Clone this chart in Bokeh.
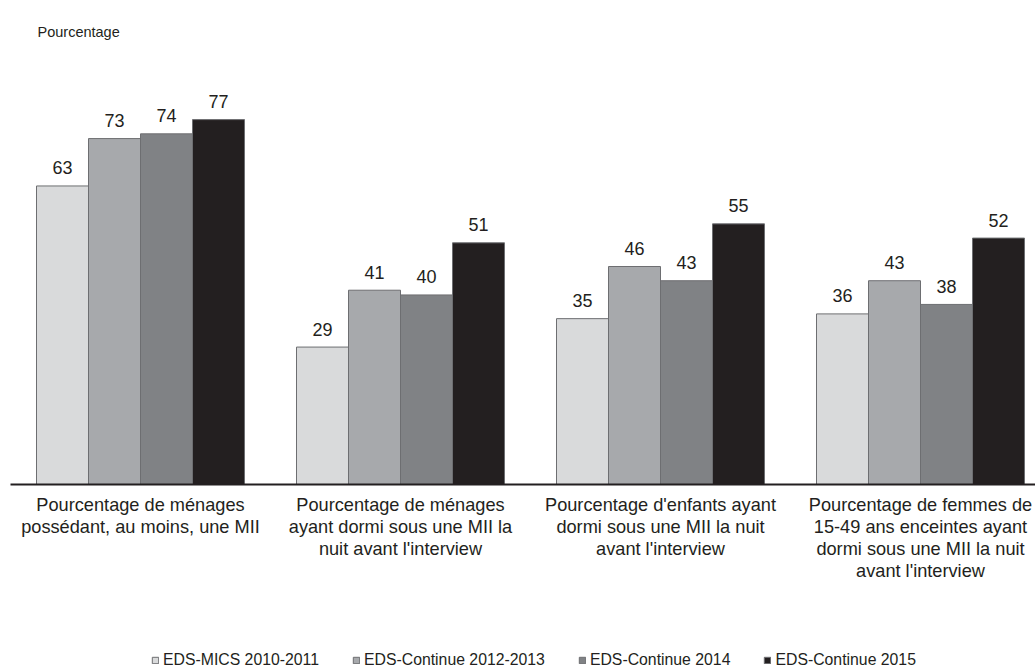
from bokeh.plotting import figure
from bokeh.layouts import column
from bokeh.models import ColumnDataSource, Range1d, FixedTicker, Legend, LegendItem
from bokeh.transform import dodge
from bokeh.core.properties import value
from bokeh.embed import file_html
from bokeh.resources import INLINE

categories = [
    "Pourcentage de ménages\npossédant, au moins, une MII",
    "Pourcentage de ménages\nayant dormi sous une MII la\nnuit avant l'interview",
    "Pourcentage d'enfants ayant\ndormi sous une MII la nuit\navant l'interview",
    "Pourcentage de femmes de\n15-49 ans enceintes ayant\ndormi sous une MII la nuit\navant l'interview",
]
series_names = ["EDS-MICS 2010-2011", "EDS-Continue 2012-2013", "EDS-Continue 2014", "EDS-Continue 2015"]
mics_2010_2011 = [63, 29, 35, 36]
continue_2012_2013 = [73, 41, 46, 43]
continue_2014 = [74, 40, 43, 38]
continue_2015 = [77, 51, 55, 52]

series_values = [mics_2010_2011, continue_2012_2013, continue_2014, continue_2015]
colors = ["#d9dadb", "#a7a9ac", "#808285", "#231f20"]
offsets = [-0.3, -0.1, 0.1, 0.3]
FONT = "Liberation Sans"
TXT = "#231f20"
EDGE = "#6d6e71"

xpos = list(range(len(categories)))
data = {"x": xpos}
for i, vals in enumerate(series_values):
    data[f"s{i}"] = vals
    data[f"l{i}"] = [str(v) for v in vals]
src = ColumnDataSource(data)

p = figure(width=1035, height=590, output_backend="svg", toolbar_location=None,
           x_range=Range1d(-0.5, -0.5 + 1025 / 260), y_range=Range1d(0, 424 / 4.75),
           min_border_left=10, min_border_right=0, min_border_top=60, min_border_bottom=106)
p.outline_line_color = None
p.grid.visible = False
p.yaxis.visible = False

p.title.text = "Pourcentage"
p.title.text_font = FONT
p.title.text_font_size = "14.5px"
p.title.text_font_style = "normal"
p.title.text_color = TXT
p.title.align = "left"
p.title.offset = 27
p.title.standoff = 43

for i in range(4):
    p.vbar(x=dodge("x", offsets[i]), top=f"s{i}", width=0.2, bottom=0, source=src,
           fill_color=colors[i], line_color=EDGE, line_width=1)
    p.text(x=dodge("x", offsets[i]), y=f"s{i}", text=f"l{i}", source=src,
           text_align="center", text_baseline="alphabetic", y_offset=-18,
           text_font=value(FONT), text_font_size="18px", text_color=TXT)

ax = p.xaxis[0]
ax.ticker = FixedTicker(ticks=xpos)
ax.major_label_overrides = {i: c for i, c in enumerate(categories)}
ax.major_label_text_font = FONT
ax.major_label_text_font_size = "18.2px"
ax.major_label_text_line_height = 1.11
ax.major_label_text_color = TXT
ax.major_label_standoff = 4
ax.major_tick_line_color = None
ax.minor_tick_line_color = None
ax.axis_line_color = "#231f20"
ax.axis_line_width = 2

# legend strip below the chart
p2 = figure(width=1035, height=79, output_backend="svg", toolbar_location=None,
            x_range=Range1d(-0.5, 3.5), y_range=Range1d(1000, 1001),
            min_border_left=0, min_border_right=0, min_border_top=0, min_border_bottom=0)
p2.outline_line_color = None
p2.grid.visible = False
p2.axis.visible = False
leg_renderers = []
for i in range(4):
    r = p2.vbar(x=dodge("x", offsets[i]), top=f"s{i}", width=0.2, bottom=0, source=src,
                fill_color=colors[i], line_color=EDGE, line_width=1)
    leg_renderers.append(r)

legend = Legend(items=[LegendItem(label=series_names[i], renderers=[leg_renderers[i]]) for i in range(4)],
                orientation="horizontal", location=(141, 0))
legend.glyph_width = 8
legend.glyph_height = 8
legend.label_standoff = 4
legend.label_height = 16
legend.spacing = 33
legend.padding = 0
legend.margin = 0
legend.label_text_font = FONT
legend.label_text_font_size = "15.8px"
legend.label_text_color = TXT
legend.background_fill_alpha = 0
legend.border_line_color = None
p2.add_layout(legend, "center")

layout = column(p, p2, spacing=0)
open("out.html", "w").write(file_html(layout, INLINE))
